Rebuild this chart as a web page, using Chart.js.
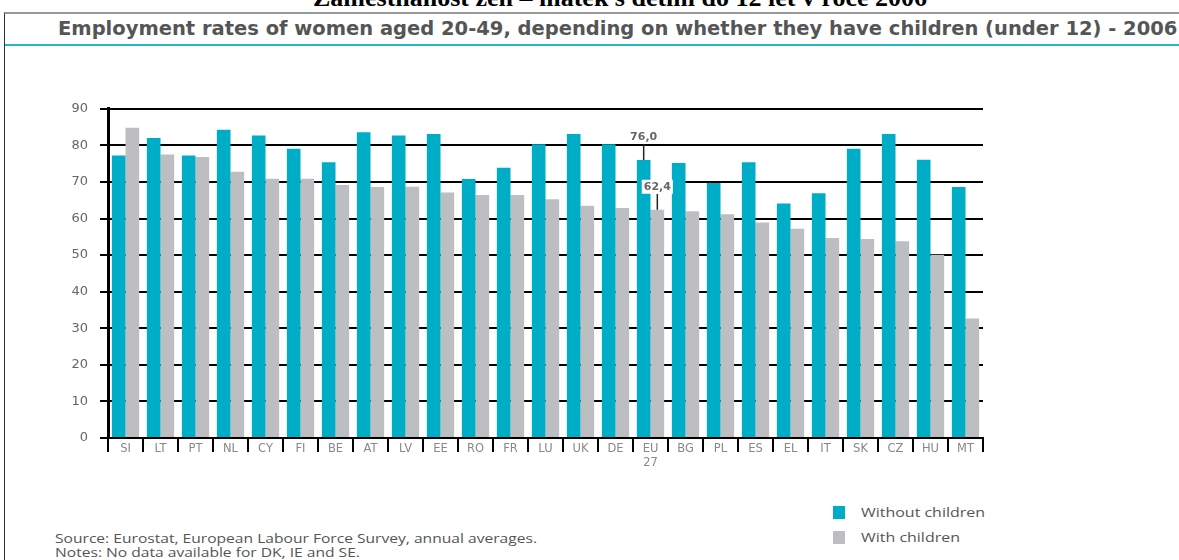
<!DOCTYPE html>
<html>
<head>
<meta charset="utf-8">
<script src="https://cdn.jsdelivr.net/npm/chart.js@4.4.0/dist/chart.umd.min.js"></script>
<style>
  html, body { margin: 0; padding: 0; background: #fff; overflow: hidden; }
  body { width: 1179px; height: 560px; position: relative; font-family: "Open Sans", sans-serif; }
  #czTitle { position: absolute; top: -17px; left: 620px; transform: translateX(-50%); white-space: nowrap; line-height: 26px; font: bold 26px "Liberation Serif", serif; color: #000; }
  #frame { position: absolute; left: 4px; top: 12px; right: 0; bottom: 0; border-left: 1px solid #333; border-top: 2px solid #999; }
  #title { position: absolute; left: 58px; top: 17px; font: bold 19.5px "DejaVu Sans", sans-serif; color: #555; white-space: nowrap; }
  #rule { position: absolute; left: 5px; top: 44px; right: 0; height: 2px; background: #29b6cc; }
  #chartBox { position: absolute; left: 0; top: 89px; width: 1000px; height: 381px; }
  .note { position: absolute; left: 55px; font-size: 12px; color: #555; white-space: nowrap; transform: scaleX(1.3); transform-origin: left center; }
  .leg { position: absolute; left: 833px; font-size: 12px; color: #555; white-space: nowrap; }
  .leg span { display: inline-block; width: 12px; height: 13px; vertical-align: -2px; margin-right: 16px; }
  .leg b { font-weight: normal; display: inline-block; transform: scaleX(1.33); transform-origin: left center; }
</style>
</head>
<body>
<div id="czTitle">Zaměstnanost žen – matek s dětmi do 12 let v roce 2006</div>
<div id="frame"></div>
<div id="title">Employment rates of women aged 20-49, depending on whether they have children (under 12) - 2006</div>
<div id="rule"></div>
<div id="chartBox"><canvas id="chart"></canvas></div>
<div class="leg" style="top:504px"><span style="background:#00adc6"></span><b>Without children</b></div>
<div class="leg" style="top:529px"><span style="background:#bdbec2"></span><b>With children</b></div>
<div class="note" style="top:530px">Source: Eurostat, European Labour Force Survey, annual averages.</div>
<div class="note" style="top:544px">Notes: No data available for DK, IE and SE.</div>
<script>
const countries = ['SI','LT','PT','NL','CY','FI','BE','AT','LV','EE','RO','FR','LU','UK','DE',['EU','27'],'BG','PL','ES','EL','IT','SK','CZ','HU','MT'];
const withoutChildren = [77.2,82.0,77.2,84.3,82.7,79.1,75.4,83.6,82.7,83.1,70.8,73.9,80.3,83.1,80.3,76.0,75.2,69.7,75.4,64.1,66.9,79.1,83.1,76.1,68.6];
const withChildren = [84.8,77.5,76.8,72.8,70.9,70.9,69.2,68.6,68.7,67.1,66.4,66.4,65.3,63.5,62.9,62.4,62.0,61.2,58.9,57.2,54.7,54.4,53.8,50.1,32.7];
const yTicks = [0,10,20,30,40,50,60,70,80,90];

// callouts for the EU 27 bars
const calloutPlugin = {
  id: 'callout',
  afterDatasetsDraw(chart) {
    const c = chart.ctx;
    const idx = 15;
    const items = [
      { ds: 0, text: '76,0', rise: 16 },
      { ds: 1, text: '62,4', rise: 16 }
    ];
    c.save();
    c.font = 'bold 11px "DejaVu Sans", sans-serif';
    c.textAlign = 'center';
    c.textBaseline = 'bottom';
    items.forEach(it => {
      const bar = chart.getDatasetMeta(it.ds).data[idx];
      const x = bar.x, top = bar.y;
      c.strokeStyle = '#222';
      c.lineWidth = 1.5;
      c.beginPath();
      c.moveTo(x, top);
      c.lineTo(x, top - it.rise);
      c.stroke();
      const w = c.measureText(it.text).width + 4;
      c.fillStyle = '#fff';
      c.fillRect(x - w / 2, top - it.rise - 14, w, 14);
      c.fillStyle = '#666';
      c.fillText(it.text, x, top - it.rise - 1);
    });
    c.restore();
  }
};

new Chart(document.getElementById('chart'), {
  type: 'bar',
  data: {
    labels: countries,
    datasets: [
      { label: 'Without children', data: withoutChildren, backgroundColor: '#00adc6', categoryPercentage: 0.78, barPercentage: 1 },
      { label: 'With children', data: withChildren, backgroundColor: '#bdbec2', categoryPercentage: 0.78, barPercentage: 1 }
    ]
  },
  options: {
    responsive: true,
    maintainAspectRatio: false,
    animation: false,
    layout: { padding: { top: 0, right: 17, left: 0, bottom: 0 } },
    plugins: { legend: { display: false }, tooltip: { enabled: false } },
    scales: {
      x: {
        offset: true,
        grid: { offset: true, drawOnChartArea: false, color: '#000', lineWidth: 2, tickLength: 14 },
        border: { color: '#000', width: 2 },
        ticks: { color: '#888', font: { size: 11.5, family: 'DejaVu Sans' }, padding: -10, maxRotation: 0, autoSkip: false },
        afterFit(s) { s.height = 32; }
      },
      y: {
        min: 0, max: 90,
        afterBuildTicks(s) { s.ticks = yTicks.map(v => ({ value: v })); },
        grid: { color: '#000', lineWidth: 2, tickLength: 8 },
        border: { color: '#000', width: 3 },
        ticks: { color: '#666', font: { size: 13, family: 'DejaVu Sans' }, padding: 12 },
        afterFit(s) { s.width = 108; }
      }
    }
  },
  plugins: [calloutPlugin]
});
</script>
</body>
</html>
